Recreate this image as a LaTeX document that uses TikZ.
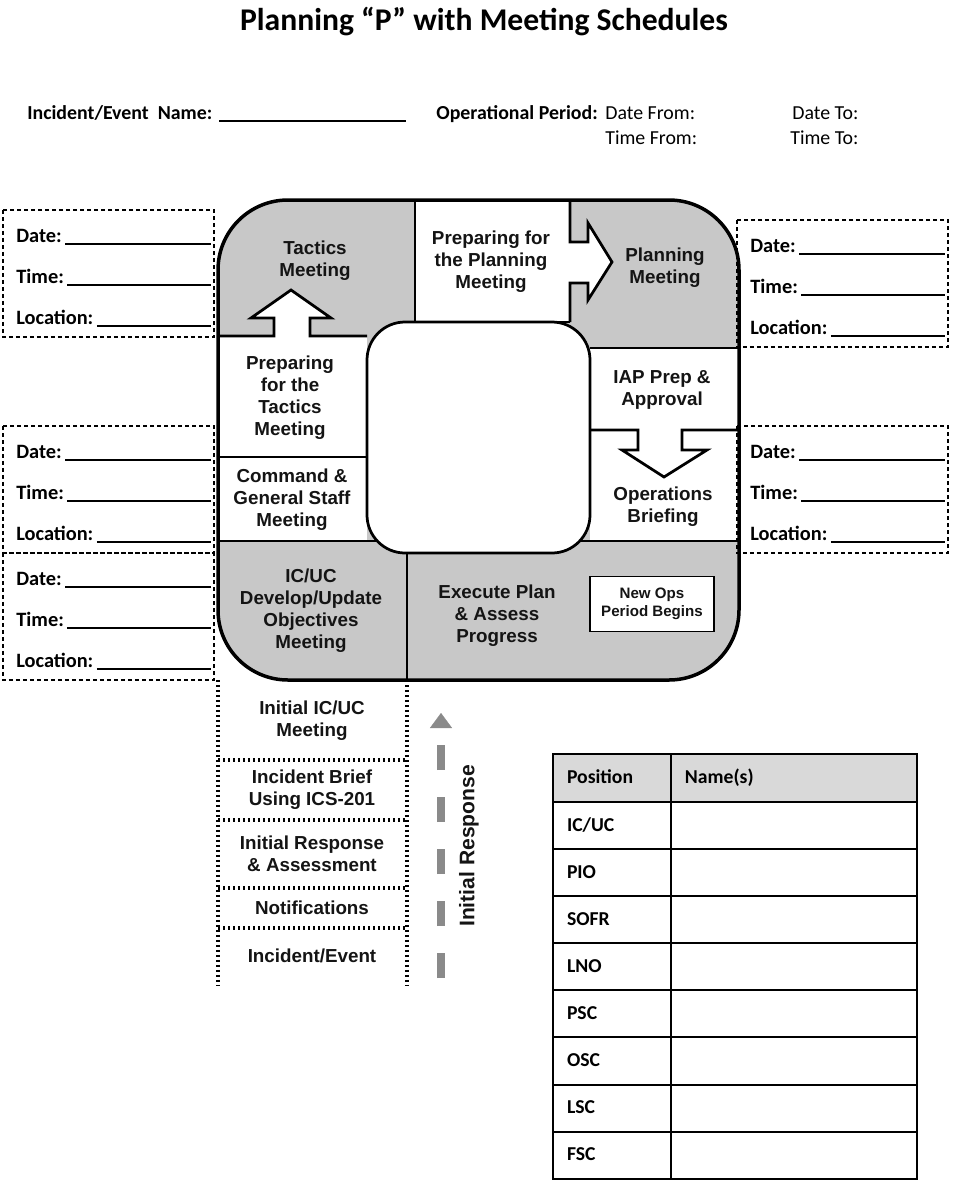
\documentclass[tikz,border=0pt]{standalone}
\usepackage{fontspec}
\setmainfont{Carlito}
\newfontfamily\diagfont{Liberation Sans}
\usetikzlibrary{positioning, arrows.meta}
\definecolor{pgray}{HTML}{C8C8C8}
\definecolor{hdrgray}{HTML}{D9D9D9}
\definecolor{inkgray}{HTML}{141414}
\definecolor{arrowgray}{HTML}{8A8A8A}
\newcommand{\blankline}{\leaders\hrule height -0.8pt depth 1.9pt\hskip 0pt plus 1fill\mbox{}}
\newcommand{\formbox}[3]{%
  \draw[formedge] (#2,#3) rectangle ++(211,127);
  \node[formrow] (#1-date) at (#2+13,#3+32) {Date:\hspace{0.7mm}\blankline};
  \node[formrow] (#1-time) at (#2+13,#3+73) {Time:\hspace{0.7mm}\blankline};
  \node[formrow] (#1-loc) at (#2+13,#3+114) {Location:\hspace{0.7mm}\blankline};
}

\begin{document}
\begin{tikzpicture}[
  x=0.02cm, y=-0.02cm,
  node distance=0pt,
  ptext/.style={font=\diagfont\bfseries\fontsize{10.7}{12.5}\selectfont, align=center, text=inkgray, inner sep=1pt},
  pline/.style={line width=0.55mm},
  pframe/.style={line width=0.7mm, rounded corners=1.4cm},
  opsbox/.style={draw, line width=0.3mm, fill=white, minimum width=24.8mm, minimum height=11mm,
    align=center, text=inkgray, font=\diagfont\bfseries\fontsize{8.6}{10.2}\selectfont},
  dotcol/.style={line width=0.65mm, dash pattern=on 0.45mm off 0.55mm},
  irarrow/.style={draw=arrowgray, line width=1.6mm, dash pattern=on 5mm off 5.4mm,
    -{Triangle[length=3mm, width=4.4mm, line width=0.1pt]}},
  irtext/.style={font=\diagfont\bfseries\fontsize{12}{14}\selectfont, text=inkgray},
  formedge/.style={line width=0.25mm, dash pattern=on 0.8mm off 0.6mm},
  formrow/.style={anchor=base west, inner sep=0pt, text width=39mm, font=\bfseries\fontsize{11.6}{13}\selectfont},
  hdrtext/.style={anchor=base west, inner sep=0pt, font=\fontsize{11.3}{13}\selectfont},
  hdrbold/.style={hdrtext, font=\bfseries\fontsize{11.3}{13}\selectfont},
  poscell/.style={draw, line width=0.4mm, outer sep=0pt, text width=18mm, inner xsep=2.8mm,
    text height=0.75em, text depth=0.1em,
    minimum height=9.42mm, align=left, font=\bfseries\fontsize{11.2}{13}\selectfont},
  namecell/.style={poscell, text width=43.6mm},
  hdrcell/.style={fill=hdrgray, minimum height=9.6mm},
]
\path[use as bounding box, fill=white] (0,0) rectangle (959,1200);

% title and header
\node[font=\bfseries\fontsize{18}{22}\selectfont, anchor=base] (title) at (484,31) {Planning “P” with Meeting Schedules};
\node[hdrbold] (evname) at (27,119) {Incident/Event\ \ Name:\hspace{1.4mm}\rule[-1.6pt]{37.4mm}{0.9pt}};
\node[hdrbold] (opperiod) at (436,119) {Operational Period:};
\node[hdrtext] (datefrom) at (605,119) {Date From:};
\node[hdrtext] (dateto) at (792,119) {Date To:};
\node[hdrtext] (timefrom) at (605,144) {Time From:};
\node[hdrtext] (timeto) at (790,144) {Time To:};

% the P
\fill[pgray, rounded corners=1.4cm] (218,200) rectangle (739,680);
\fill[white] (415,200) rectangle (570,322);
\fill[white] (218,336) rectangle (367,541);
\fill[white] (590,348) rectangle (739,541);
\fill[white] (568,242) -- (588,242) -- (588,223) -- (612,262) -- (588,300) -- (588,283) -- (568,283) -- cycle;
\fill[white] (274,338) -- (274,318) -- (251,318) -- (291,290) -- (331,318) -- (310,318) -- (310,338) -- cycle;

\draw[pline] (415,200) -- (415,322) -- (570,322);
\draw[pline] (570,200) -- (570,242) -- (588,242) -- (588,223) -- (612,262) -- (588,300) -- (588,283) -- (570,283) -- (570,322);
\draw[pline] (218,336) -- (274,336) -- (274,318) -- (251,318) -- (291,290) -- (331,318) -- (310,318) -- (310,336) -- (367,336);
\draw[pline] (590,348) -- (739,348);
\draw[pline] (218,457) -- (367,457);
\draw[pline] (590,430) -- (638,430) -- (638,450) -- (622,450) -- (664,477) -- (707,450) -- (682,450) -- (682,430) -- (739,430);
\draw[pline] (218,541) -- (739,541);
\draw[pline] (407,541) -- (407,680);
\filldraw[pline, fill=white, rounded corners=0.76cm] (367,322) rectangle (590,553);
\draw[pframe] (218,200) rectangle (739,680);

\node[ptext] (tactics) at (315,261) {Tactics\\Meeting};
\node[ptext] (prepplan) at (491,262) {Preparing for\\the Planning\\Meeting};
\node[ptext] (planning) at (665,268) {Planning\\Meeting};
\node[ptext] (preptac) at (290,398) {Preparing\\for the\\Tactics\\Meeting};
\node[ptext] (cgs) at (292,500) {Command \&\\General Staff\\Meeting};
\node[ptext] (iap) at (662,390) {IAP Prep \&\\Approval};
\node[ptext] (opsbrief) at (663,507) {Operations\\Briefing};
\node[ptext] (objectives) at (311,611) {IC/UC\\Develop/Update\\Objectives\\Meeting};
\node[ptext] (execute) at (497,616) {Execute Plan\\\& Assess\\Progress};
\node[opsbox] (newops) at (652,604) {New Ops\\Period Begins};

% initial response column
\draw[dotcol] (218,680) -- (218,985);
\draw[dotcol] (407,680) -- (407,985);
\draw[dotcol] (218,760) -- (407,760);
\draw[dotcol] (218,820) -- (407,820);
\draw[dotcol] (218,888) -- (407,888);
\draw[dotcol] (218,928) -- (407,928);
\node[ptext] (initmeet) at (312,721) {Initial IC/UC\\Meeting};
\node[ptext] (brief) at (312,790) {Incident Brief\\Using ICS-201};
\node[ptext] (initresp) at (312,854) {Initial Response\\\& Assessment};
\node[ptext] (notif) at (312,908) {Notifications};
\node[ptext] (incident) at (312,956) {Incident/Event};

\coordinate (irstart) at (441,978);
\coordinate (irend) at (441,713);
\draw[irarrow] (irstart) -- (irend);
\node[irtext, rotate=90] (irlabel) at (469,846) {Initial Response};

% schedule boxes
\formbox{fl1}{3}{210}
\formbox{fl2}{3}{426}
\formbox{fl3}{3}{553}
\formbox{fr1}{737}{220}
\formbox{fr2}{737}{426}

% positions table
\node[poscell, hdrcell] (hpos) at (612,778) {Position};
\node[namecell, hdrcell, right=of hpos] (hname) {Name(s)};
\node[poscell, below=of hpos] (icuc) {IC/UC};
\node[namecell, right=of icuc] (icucname) {};
\node[poscell, below=of icuc] (pio) {PIO};
\node[namecell, right=of pio] (pioname) {};
\node[poscell, below=of pio] (sofr) {SOFR};
\node[namecell, right=of sofr] (sofrname) {};
\node[poscell, below=of sofr] (lno) {LNO};
\node[namecell, right=of lno] (lnoname) {};
\node[poscell, below=of lno] (psc) {PSC};
\node[namecell, right=of psc] (pscname) {};
\node[poscell, below=of psc] (osc) {OSC};
\node[namecell, right=of osc] (oscname) {};
\node[poscell, below=of osc] (lsc) {LSC};
\node[namecell, right=of lsc] (lscname) {};
\node[poscell, below=of lsc] (fsc) {FSC};
\node[namecell, right=of fsc] (fscname) {};

\end{tikzpicture}
\end{document}
